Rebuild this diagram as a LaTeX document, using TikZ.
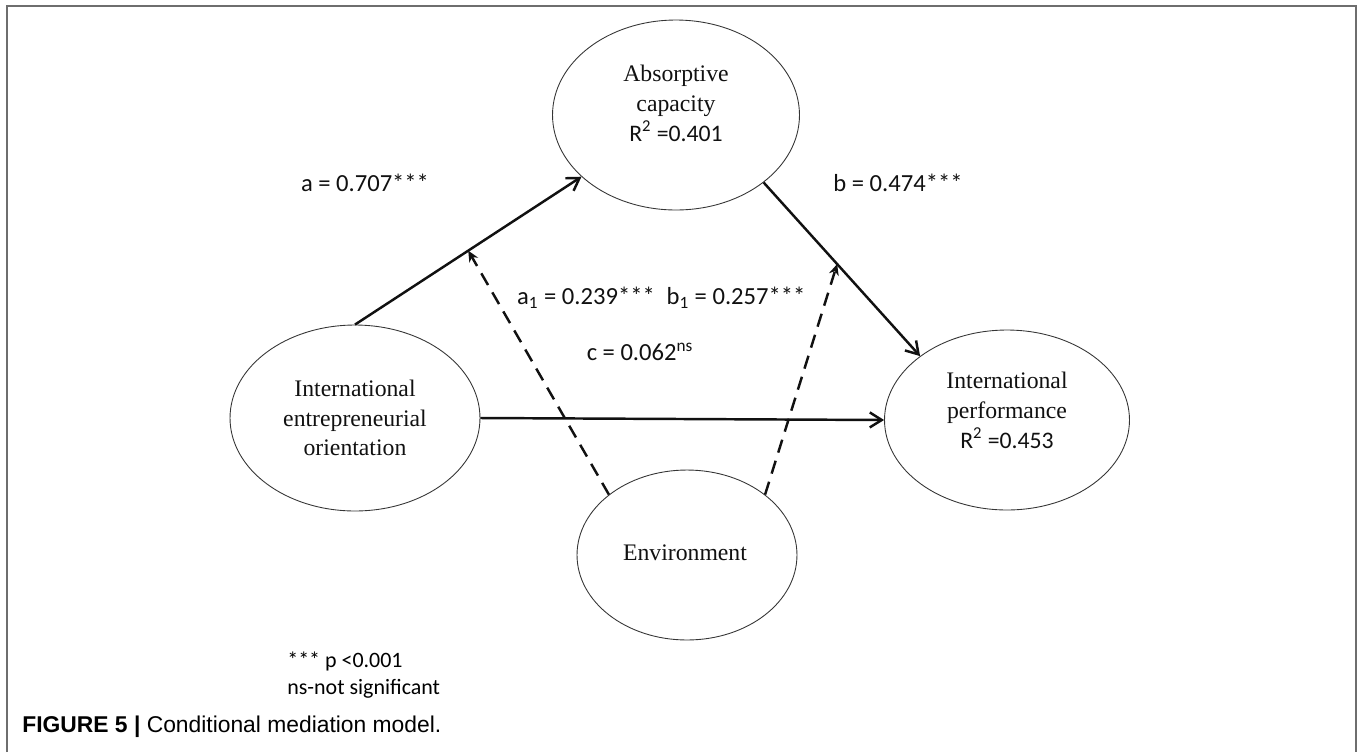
\documentclass[tikz,border=0pt]{standalone}
\usepackage{fontspec}
\setmainfont{Liberation Serif}
\newfontfamily\coeffont{Carlito}
\newfontfamily\captionfont{Liberation Sans}
\usetikzlibrary{
  arrows.meta,
  positioning,
  shapes.geometric
}
\definecolor{modelInk}{HTML}{111111}
\definecolor{frameGray}{HTML}{6E6E6E}
\tikzset{
  latentNode/.style={
    draw=modelInk!85,
    ellipse,
    line width=0.5pt,
    inner sep=0pt
  },
  nameText/.style={
    align=center,
    font=\fontsize{13.5}{17}\selectfont,
    text=modelInk,
    inner sep=1pt
  },
  coefLabel/.style={
    font=\coeffont\fontsize{14}{16}\selectfont,
    text=modelInk,
    inner sep=1pt
  },
  pathArrow/.style={-{Straight Barb[length=2.4mm,width=3mm]}, line width=1.4pt, modelInk},
  moderatorArrow/.style={
    -{Stealth[length=2.2mm,width=2mm]},
    line width=1.4pt,
    modelInk,
    dash pattern=on 2.7mm off 1.7mm
  },
  frameLine/.style={frameGray, line width=0.45mm},
  legendText/.style={
    font=\coeffont\fontsize{12.5}{15}\selectfont,
    align=left,
    anchor=north west,
    inner sep=0pt
  },
  captionText/.style={
    font=\captionfont\fontsize{13}{15}\selectfont,
    anchor=west,
    inner sep=0pt
  }
}

\begin{document}
\begin{tikzpicture}[x=0.02cm,y=-0.02cm]
  \useasboundingbox (0,0) rectangle (1357,752);
  \draw[frameLine] (7,752) -- (7,6) -- (1356,6) -- (1356,752);

  % latent constructs
  \node[latentNode, minimum width=4.94cm, minimum height=3.8cm] (abs) at (676,115) {};
  \node[nameText] (absText) at (676,103)
    {Absorptive\\capacity\\{\coeffont R\textsuperscript{2} =0.401}};
  \node[latentNode, minimum width=5.0cm, minimum height=3.72cm] (ieo) at (355,418)
    {};
  \node[nameText] (ieoText) at (355,418)
    {International\\entrepreneurial\\orientation};
  \node[latentNode, minimum width=4.9cm, minimum height=3.6cm] (ip) at (1007,420) {};
  \node[nameText] (ipText) at (1007,410)
    {International\\performance\\{\coeffont R\textsuperscript{2} =0.453}};
  \node[latentNode, minimum width=4.4cm, minimum height=3.4cm] (env) at (687,555) {};
  \node[nameText] (envText) at (685,553) {Environment};

  % direct and indirect paths
  \draw[pathArrow] (ieo.north) -- coordinate[pos=0.5] (aMid) (abs);
  \draw[pathArrow] (abs.south east) -- coordinate[pos=0.47] (bMid) (ip.north west);
  \draw[pathArrow] (ieo.east) -- (ip.west);

  % moderation by environment
  \draw[moderatorArrow] (env.north west) -- (aMid);
  \draw[moderatorArrow] (env.north east) -- (bMid);

  % coefficients
  \node[coefLabel] (aLabel) at (365,183) {a = 0.707***};
  \node[coefLabel] (bLabel) at (898,183) {b = 0.474***};
  \node[coefLabel] (a1Label) at (586,298) {a\textsubscript{1} = 0.239***};
  \node[coefLabel] (b1Label) at (736,298) {b\textsubscript{1} = 0.257***};
  \node[coefLabel] (cLabel) at (640,352) {c = 0.062\textsuperscript{ns}};

  \node[legendText] (legend) at (287,652) {*** p <0.001\\ns-not significant};
  \node[captionText] (caption) at (22,727)
    {\textbf{FIGURE 5 |} Conditional mediation model.};
\end{tikzpicture}
\end{document}
